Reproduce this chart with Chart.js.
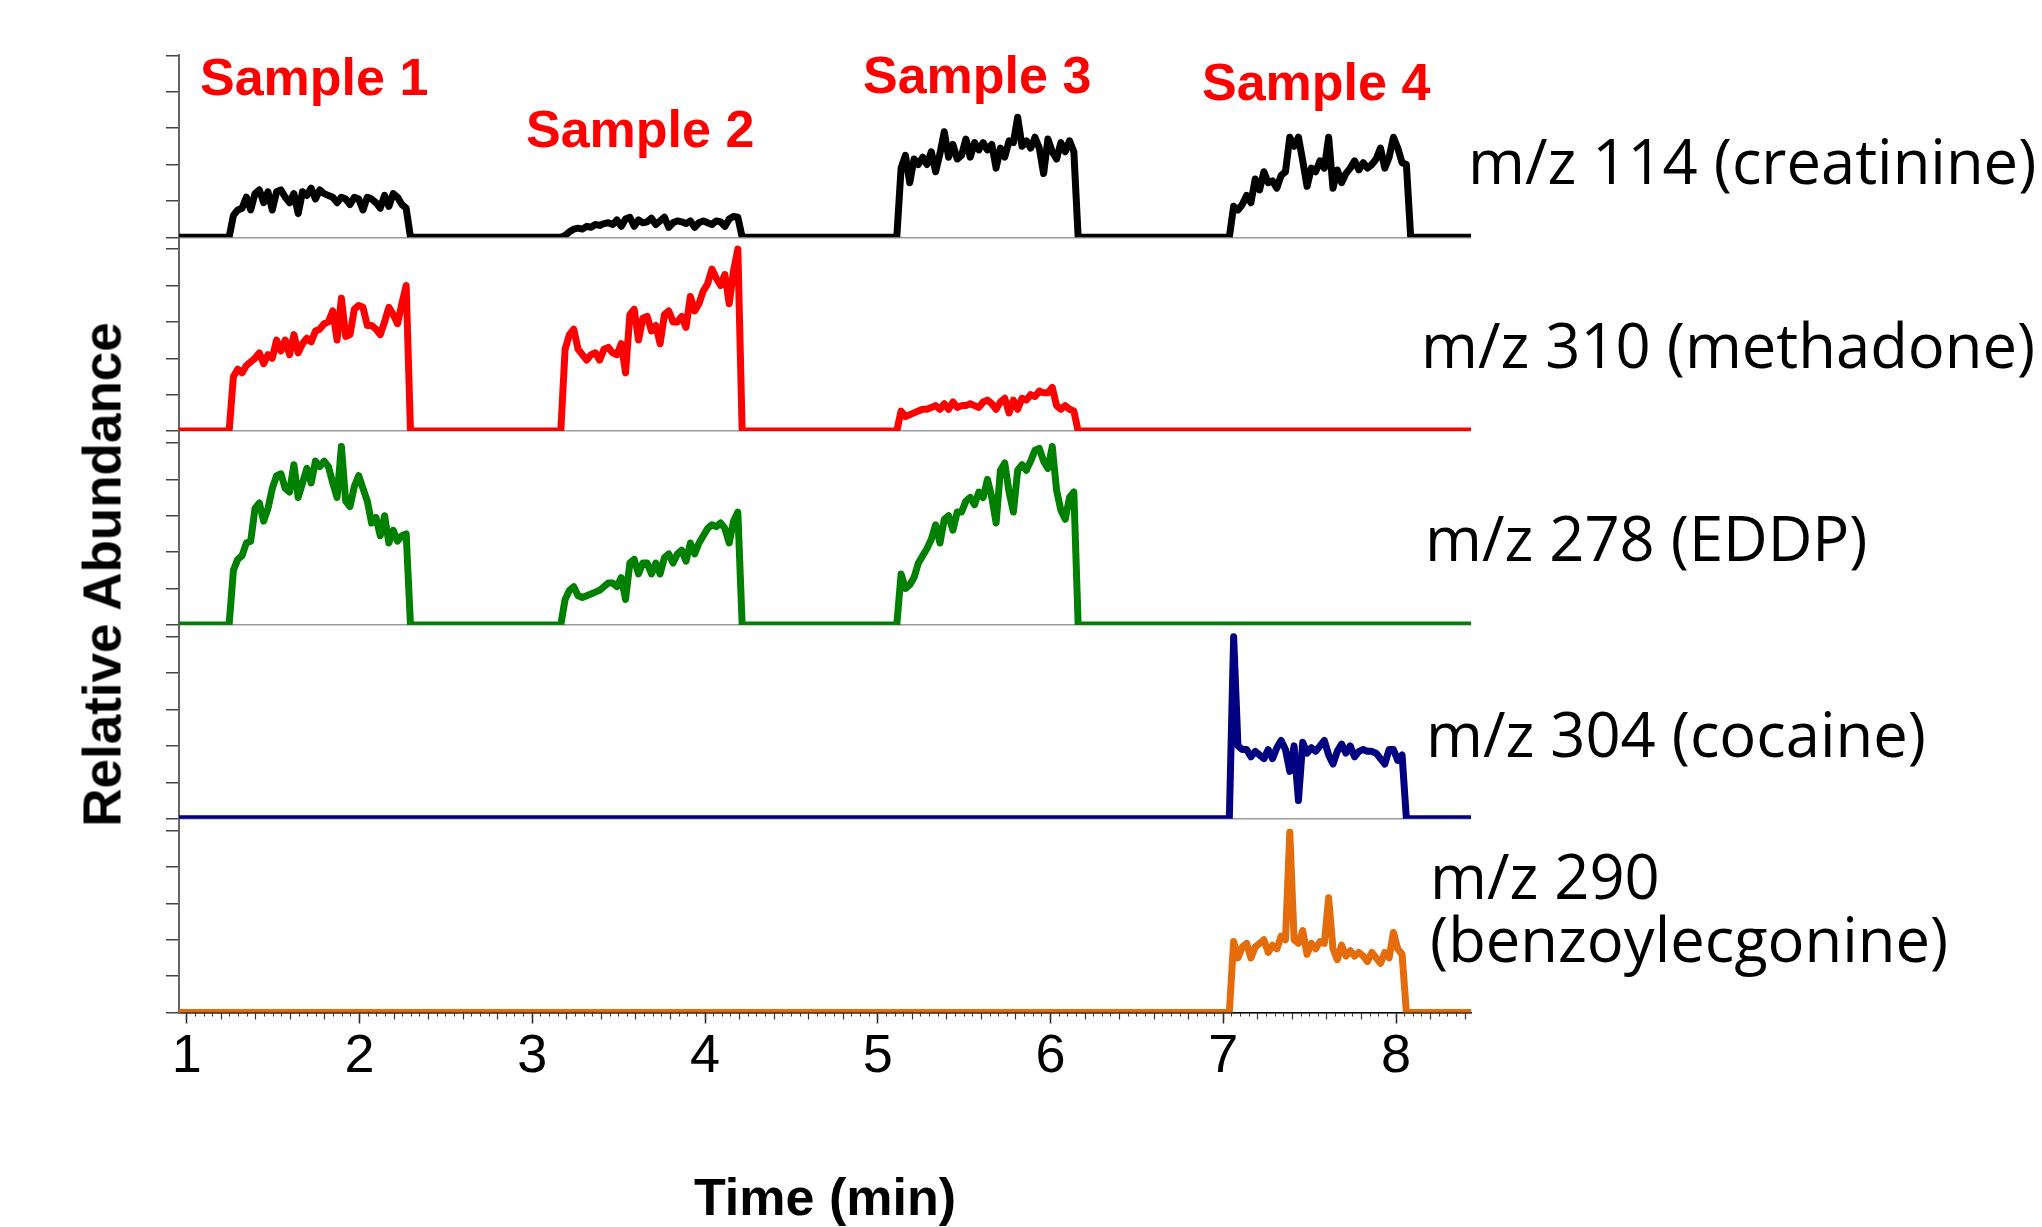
<!DOCTYPE html>
<html>
<head>
<meta charset="utf-8">
<title>Ion traces</title>
<script src="https://cdn.jsdelivr.net/npm/chart.js@4.4.1/dist/chart.umd.min.js"></script>
<style>
  html, body { margin: 0; padding: 0; background: #fff; }
  #wrap { position: relative; width: 2042px; height: 1227px; overflow: hidden; }
  #chart { position: absolute; left: 0; top: 0; }
  .sample { position: absolute; font: bold 52px "Liberation Sans", Arial, sans-serif; line-height: 52px; color: #ff0000; white-space: nowrap; }
  .ion { position: absolute; font: 61.5px "Open Sans", sans-serif; line-height: 63px; color: #000; white-space: nowrap; }
  #ytitle { position: absolute; left: -202px; top: 547.5px; width: 600px; height: 53px; line-height: 53px; text-align: center;
            font: bold 53px "Liberation Sans", Arial, sans-serif; color: #000; transform: rotate(-90deg); white-space: nowrap; }
</style>
</head>
<body>
<div id="wrap">
  <canvas id="chart" width="2042" height="1227"></canvas>
  <div class="sample" style="left:200px; top:51px;">Sample 1</div>
  <div class="sample" style="left:526px; top:102.5px;">Sample 2</div>
  <div class="sample" style="left:863px; top:49px;">Sample 3</div>
  <div class="sample" style="left:1202px; top:56px;">Sample 4</div>
  <div class="ion" style="left:1468px; top:129px;">m/z 114 (creatinine)</div>
  <div class="ion" style="left:1421px; top:313px;">m/z 310 (methadone)</div>
  <div class="ion" style="left:1425px; top:506px;">m/z 278 (EDDP)</div>
  <div class="ion" style="left:1426px; top:702px;">m/z 304 (cocaine)</div>
  <div class="ion" style="left:1430px; top:844px;">m/z 290<br>(benzoylecgonine)</div>
  <div id="ytitle">Relative Abundance</div>
</div>
<script>
// axis settings
const xTickLabels = [1, 2, 3, 4, 5, 6, 7, 8];
const yTicks = [0, 20, 40, 60, 80, 100];
const xMin = 0.955, xMax = 8.434, yMax = 106.5;

// each sample is injected at these times, one scan every 0.025 min
const scanStep = 0.025;
const sampleStart = [1.27, 3.19, 5.135, 7.06];

const traceNames = ['m/z 114 (creatinine)', 'm/z 310 (methadone)', 'm/z 278 (EDDP)', 'm/z 304 (cocaine)', 'm/z 290 (benzoylecgonine)'];
const traceColors = ['#000000', '#ff0000', '#008000', '#000080', '#e46c0a'];

// relative abundance (%) per scan
const creatinineS1 = [12,15,16,22,15,24,26,19,25,15,25,26,22,19,24,13,25,23,27,21,26,24,23,22,19,22,21,18,22,21,15,22,21,19,16,23,17,24,22,18,16];
const creatinineS2 = [1,3,4.5,5,4.5,6,5.5,7,6.5,7.5,8,7,9.5,6,10,11,6,9.5,8,8.5,10.5,7,9,11,5.5,8,9,8.5,7.5,9,5.5,8,9,8,7,9,8.5,6,10,11.5,11];
const creatinineS3 = [38,45,30,43,40,44,40,47,36,46,58,44,51,43,45,54,44,52,48,52,48,51,38,49,44,53,52,66,50,53,49,55,49,35,54,47,43,52,47,53,47];
const creatinineS4 = [17,15,18,23,19,32,26,36,30,31,27,34,36,55,50,55,42,28,38,36,42,38,55,27,37,30,35,38,42,37,41,38,40,43,49,38,44,55,49,41,40];

const methadoneS1 = [30,34,32,36,38,40,43,37,42,40,50,44,50,42,53,43,48,51,49,55,56,59,60,66,50,73,52,53,67,69,68,58,58,56,53,60,68,64,59,70,80];
const methadoneS2 = [45,53,56,45,42,39,42,43,39,45,46,43,42,48,32,64,67,50,62,63,55,58,48,64,66,60,60,63,57,74,66,70,77,81,89,84,80,86,70,88,100];
const methadoneS3 = [11,8,9,10,11,12,12,13,14,12,15,12,16,13,14,14,15,14,13,16,17,15,12,16,18,10,17,12,18,17,20,19,22,21,21,24,14,12,14,12,11];

const eddpS1 = [30,36,38,45,46,64,67,57,64,75,82,83,75,73,88,70,78,86,78,90,87,90,87,78,70,98,68,65,76,82,75,68,56,59,49,60,45,52,46,49,50];
const eddpS2 = [14,19,21,16,15,16,17,18,19,21,23,23,21,26,14,34,36,28,34,34,28,34,28,37,39,34,39,41,35,45,39,45,49,53,55,54,56,53,45,57,62];
const eddpS3 = [28,20,22,26,34,38,42,47,55,45,58,60,52,62,62,68,70,66,73,70,80,70,56,85,89,73,62,85,88,85,90,96,97,90,86,98,74,63,58,70,73];

const cocaineS4 = [100,40,38,38,34,37,35,33,38,33,39,43,38,26,40,10,42,36,39,37,40,43,35,30,37,41,36,40,34,37,38,37,37,36,33,30,38,38,32,35];

const benzoylS4 = [39,30,36,38,30,36,38,40,33,37,35,42,40,99,40,38,45,32,38,35,39,38,63,35,29,37,31,34,31,33,31,28,33,30,27,33,30,44,35,32];

// [sample index, scans] for every trace
const traceSegments = [
  [[0, creatinineS1], [1, creatinineS2], [2, creatinineS3], [3, creatinineS4]],
  [[0, methadoneS1], [1, methadoneS2], [2, methadoneS3]],
  [[0, eddpS1], [1, eddpS2], [2, eddpS3]],
  [[3, cocaineS4]],
  [[3, benzoylS4]]
];

function tracePoints(segments) {
  const pts = [{x: xMin, y: 0}];
  segments.forEach(function(seg) {
    const t0 = sampleStart[seg[0]];
    pts.push({x: t0 - scanStep, y: 0});
    seg[1].forEach(function(v, i) {
      pts.push({x: t0 + i * scanStep, y: v});
    });
    pts.push({x: t0 + seg[1].length * scanStep, y: 0});
  });
  pts.push({x: xMax, y: 0});
  return pts;
}

// small ticks along the time axis
const midTicks = [];
for (let k = 5; k <= 42; k++) midTicks.push(k * 0.2);
const minorTicks = [];
for (let k = 20; k <= 168; k++) minorTicks.push(k * 0.05);

const font = '"Liberation Sans", Arial, sans-serif';
Chart.defaults.font.family = font;

const scales = {
  x: {
    type: 'linear', position: 'bottom', min: xMin, max: xMax,
    afterBuildTicks: function(s) { s.ticks = xTickLabels.map(v => ({value: v})); },
    afterFit: function(s) { s.height = 214.5; },
    grid: { drawOnChartArea: false, drawTicks: true, tickLength: 11, tickWidth: 1.5, tickColor: '#222' },
    border: { display: true, color: '#000', width: 1.5 },
    ticks: { color: '#000', font: { size: 54 }, padding: 1, maxRotation: 0 },
    title: { display: true, text: 'Time (min)', color: '#000', padding: 0,
             font: { size: 52, weight: 'bold', lineHeight: 1 } }
  },
  xMid: {
    type: 'linear', position: 'bottom', weight: -1, min: xMin, max: xMax,
    afterBuildTicks: function(s) { s.ticks = midTicks.map(v => ({value: v})); },
    afterFit: function(s) { s.height = 0; },
    ticks: { display: false },
    grid: { drawOnChartArea: false, drawTicks: true, tickLength: 7, tickWidth: 1.2, tickColor: '#333' },
    border: { display: false }
  },
  xMinor: {
    type: 'linear', position: 'bottom', weight: -2, min: xMin, max: xMax,
    afterBuildTicks: function(s) { s.ticks = minorTicks.map(v => ({value: v})); },
    afterFit: function(s) { s.height = 0; },
    ticks: { display: false },
    grid: { drawOnChartArea: false, drawTicks: true, tickLength: 4, tickWidth: 1, tickColor: '#333' },
    border: { display: false }
  }
};

// stacked panels: the last one defined ends up at the top.
// the top panel stops at its 100 tick, the others keep a small gap above it
for (let p = 4; p >= 0; p--) {
  const top = p === 0 ? 100 : yMax;
  scales['y' + p] = {
    type: 'linear', position: 'left', stack: 'panels', stackWeight: top / yMax, min: 0, max: top,
    afterBuildTicks: function(s) { s.ticks = yTicks.map(v => ({value: v})); },
    afterFit: function(s) { s.width = 14; },
    ticks: { display: false },
    grid: {
      drawOnChartArea: true, drawTicks: true, tickLength: 13, lineWidth: 1.5, tickWidth: 1.5, tickColor: '#444',
      color: function(c) { return c.tick && c.tick.value === 0 ? '#9a9a9a' : 'rgba(0,0,0,0)'; }
    },
    border: { display: true, color: '#666', width: 2 }
  };
}

const datasets = traceNames.map(function(name, p) {
  return {
    label: name,
    data: tracePoints(traceSegments[p]),
    xAxisID: 'x',
    yAxisID: 'y' + p,
    borderColor: traceColors[p],
    backgroundColor: traceColors[p],
    borderWidth: 7,
    pointRadius: 0,
    tension: 0,
    fill: false,
    borderJoinStyle: 'round',
    borderCapStyle: 'round'
  };
});

new Chart(document.getElementById('chart'), {
  type: 'line',
  data: { datasets: datasets },
  options: {
    responsive: false,
    animation: false,
    layout: { padding: { left: 165, right: 571, top: 55.3, bottom: 0 } },
    plugins: { legend: { display: false }, tooltip: { enabled: false } },
    scales: scales
  }
});
</script>
</body>
</html>
